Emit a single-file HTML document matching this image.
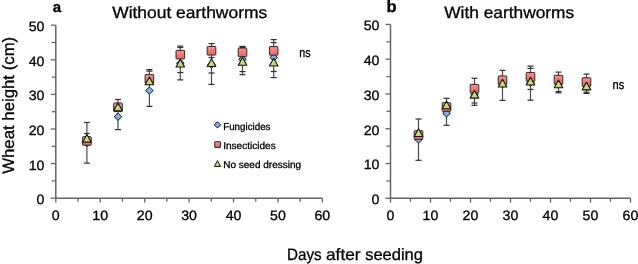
<!DOCTYPE html>
<html><head><meta charset="utf-8"><style>
html,body{margin:0;padding:0;background:#fff;}
svg{display:block;will-change:transform;}
text{font-family:"Liberation Sans", sans-serif;fill:#000;stroke:#000;stroke-width:0.3px;text-rendering:geometricPrecision;}
</style></head><body>
<svg width="638" height="264" viewBox="0 0 638 264">
<defs><linearGradient id="rg" x1="0" y1="0" x2="0" y2="1"><stop offset="0" stop-color="#f49494"/><stop offset="1" stop-color="#e96060"/></linearGradient>
<linearGradient id="gg" x1="0" y1="0" x2="0" y2="1"><stop offset="0" stop-color="#d2e68a"/><stop offset="1" stop-color="#bcd966"/></linearGradient>
<linearGradient id="bg" x1="0" y1="0" x2="0" y2="1"><stop offset="0" stop-color="#86bdf3"/><stop offset="1" stop-color="#68a9ea"/></linearGradient></defs>
<rect width="638" height="264" fill="#fff"/>
<line x1="55.8" y1="25.2" x2="55.8" y2="198.2" stroke="#646464" stroke-width="1.5"/>
<line x1="55.8" y1="198.2" x2="322.38" y2="198.2" stroke="#646464" stroke-width="1.5"/>
<line x1="50.8" y1="198.20" x2="55.8" y2="198.20" stroke="#646464" stroke-width="1.3"/>
<text transform="translate(44.5,204.10) scale(1.05,1)" text-anchor="end" font-size="13.5">0</text>
<line x1="51.8" y1="180.90" x2="55.8" y2="180.90" stroke="#646464" stroke-width="1.3"/>
<line x1="50.8" y1="163.60" x2="55.8" y2="163.60" stroke="#646464" stroke-width="1.3"/>
<text transform="translate(44.5,169.50) scale(1.05,1)" text-anchor="end" font-size="13.5">10</text>
<line x1="51.8" y1="146.30" x2="55.8" y2="146.30" stroke="#646464" stroke-width="1.3"/>
<line x1="50.8" y1="129.00" x2="55.8" y2="129.00" stroke="#646464" stroke-width="1.3"/>
<text transform="translate(44.5,134.90) scale(1.05,1)" text-anchor="end" font-size="13.5">20</text>
<line x1="51.8" y1="111.70" x2="55.8" y2="111.70" stroke="#646464" stroke-width="1.3"/>
<line x1="50.8" y1="94.40" x2="55.8" y2="94.40" stroke="#646464" stroke-width="1.3"/>
<text transform="translate(44.5,100.30) scale(1.05,1)" text-anchor="end" font-size="13.5">30</text>
<line x1="51.8" y1="77.10" x2="55.8" y2="77.10" stroke="#646464" stroke-width="1.3"/>
<line x1="50.8" y1="59.80" x2="55.8" y2="59.80" stroke="#646464" stroke-width="1.3"/>
<text transform="translate(44.5,65.70) scale(1.05,1)" text-anchor="end" font-size="13.5">40</text>
<line x1="51.8" y1="42.50" x2="55.8" y2="42.50" stroke="#646464" stroke-width="1.3"/>
<line x1="50.8" y1="25.20" x2="55.8" y2="25.20" stroke="#646464" stroke-width="1.3"/>
<text transform="translate(44.5,31.10) scale(1.05,1)" text-anchor="end" font-size="13.5">50</text>
<line x1="55.80" y1="198.2" x2="55.80" y2="202.5" stroke="#646464" stroke-width="1.3"/>
<text transform="translate(55.80,220.1) scale(1.05,1)" text-anchor="middle" font-size="13.5">0</text>
<line x1="78.01" y1="198.2" x2="78.01" y2="201.79999999999998" stroke="#646464" stroke-width="1.3"/>
<line x1="100.23" y1="198.2" x2="100.23" y2="202.5" stroke="#646464" stroke-width="1.3"/>
<text transform="translate(100.23,220.1) scale(1.05,1)" text-anchor="middle" font-size="13.5">10</text>
<line x1="122.44" y1="198.2" x2="122.44" y2="201.79999999999998" stroke="#646464" stroke-width="1.3"/>
<line x1="144.66" y1="198.2" x2="144.66" y2="202.5" stroke="#646464" stroke-width="1.3"/>
<text transform="translate(144.66,220.1) scale(1.05,1)" text-anchor="middle" font-size="13.5">20</text>
<line x1="166.88" y1="198.2" x2="166.88" y2="201.79999999999998" stroke="#646464" stroke-width="1.3"/>
<line x1="189.09" y1="198.2" x2="189.09" y2="202.5" stroke="#646464" stroke-width="1.3"/>
<text transform="translate(189.09,220.1) scale(1.05,1)" text-anchor="middle" font-size="13.5">30</text>
<line x1="211.31" y1="198.2" x2="211.31" y2="201.79999999999998" stroke="#646464" stroke-width="1.3"/>
<line x1="233.52" y1="198.2" x2="233.52" y2="202.5" stroke="#646464" stroke-width="1.3"/>
<text transform="translate(233.52,220.1) scale(1.05,1)" text-anchor="middle" font-size="13.5">40</text>
<line x1="255.73" y1="198.2" x2="255.73" y2="201.79999999999998" stroke="#646464" stroke-width="1.3"/>
<line x1="277.95" y1="198.2" x2="277.95" y2="202.5" stroke="#646464" stroke-width="1.3"/>
<text transform="translate(277.95,220.1) scale(1.05,1)" text-anchor="middle" font-size="13.5">50</text>
<line x1="300.16" y1="198.2" x2="300.16" y2="201.79999999999998" stroke="#646464" stroke-width="1.3"/>
<line x1="322.38" y1="198.2" x2="322.38" y2="202.5" stroke="#646464" stroke-width="1.3"/>
<text transform="translate(322.38,220.1) scale(1.05,1)" text-anchor="middle" font-size="13.5">60</text>
<line x1="390.5" y1="24.4" x2="390.5" y2="198.3" stroke="#646464" stroke-width="1.5"/>
<line x1="390.5" y1="198.3" x2="630.5" y2="198.3" stroke="#646464" stroke-width="1.5"/>
<line x1="385.5" y1="198.30" x2="390.5" y2="198.30" stroke="#646464" stroke-width="1.3"/>
<text transform="translate(379.5,204.20) scale(1.05,1)" text-anchor="end" font-size="13.5">0</text>
<line x1="386.5" y1="180.91" x2="390.5" y2="180.91" stroke="#646464" stroke-width="1.3"/>
<line x1="385.5" y1="163.52" x2="390.5" y2="163.52" stroke="#646464" stroke-width="1.3"/>
<text transform="translate(379.5,169.42) scale(1.05,1)" text-anchor="end" font-size="13.5">10</text>
<line x1="386.5" y1="146.13" x2="390.5" y2="146.13" stroke="#646464" stroke-width="1.3"/>
<line x1="385.5" y1="128.74" x2="390.5" y2="128.74" stroke="#646464" stroke-width="1.3"/>
<text transform="translate(379.5,134.64) scale(1.05,1)" text-anchor="end" font-size="13.5">20</text>
<line x1="386.5" y1="111.35" x2="390.5" y2="111.35" stroke="#646464" stroke-width="1.3"/>
<line x1="385.5" y1="93.96" x2="390.5" y2="93.96" stroke="#646464" stroke-width="1.3"/>
<text transform="translate(379.5,99.86) scale(1.05,1)" text-anchor="end" font-size="13.5">30</text>
<line x1="386.5" y1="76.57" x2="390.5" y2="76.57" stroke="#646464" stroke-width="1.3"/>
<line x1="385.5" y1="59.18" x2="390.5" y2="59.18" stroke="#646464" stroke-width="1.3"/>
<text transform="translate(379.5,65.08) scale(1.05,1)" text-anchor="end" font-size="13.5">40</text>
<line x1="386.5" y1="41.79" x2="390.5" y2="41.79" stroke="#646464" stroke-width="1.3"/>
<line x1="385.5" y1="24.40" x2="390.5" y2="24.40" stroke="#646464" stroke-width="1.3"/>
<text transform="translate(379.5,30.30) scale(1.05,1)" text-anchor="end" font-size="13.5">50</text>
<line x1="390.50" y1="198.3" x2="390.50" y2="202.60000000000002" stroke="#646464" stroke-width="1.3"/>
<text transform="translate(390.50,220.1) scale(1.05,1)" text-anchor="middle" font-size="13.5">0</text>
<line x1="410.50" y1="198.3" x2="410.50" y2="201.9" stroke="#646464" stroke-width="1.3"/>
<line x1="430.50" y1="198.3" x2="430.50" y2="202.60000000000002" stroke="#646464" stroke-width="1.3"/>
<text transform="translate(430.50,220.1) scale(1.05,1)" text-anchor="middle" font-size="13.5">10</text>
<line x1="450.50" y1="198.3" x2="450.50" y2="201.9" stroke="#646464" stroke-width="1.3"/>
<line x1="470.50" y1="198.3" x2="470.50" y2="202.60000000000002" stroke="#646464" stroke-width="1.3"/>
<text transform="translate(470.50,220.1) scale(1.05,1)" text-anchor="middle" font-size="13.5">20</text>
<line x1="490.50" y1="198.3" x2="490.50" y2="201.9" stroke="#646464" stroke-width="1.3"/>
<line x1="510.50" y1="198.3" x2="510.50" y2="202.60000000000002" stroke="#646464" stroke-width="1.3"/>
<text transform="translate(510.50,220.1) scale(1.05,1)" text-anchor="middle" font-size="13.5">30</text>
<line x1="530.50" y1="198.3" x2="530.50" y2="201.9" stroke="#646464" stroke-width="1.3"/>
<line x1="550.50" y1="198.3" x2="550.50" y2="202.60000000000002" stroke="#646464" stroke-width="1.3"/>
<text transform="translate(550.50,220.1) scale(1.05,1)" text-anchor="middle" font-size="13.5">40</text>
<line x1="570.50" y1="198.3" x2="570.50" y2="201.9" stroke="#646464" stroke-width="1.3"/>
<line x1="590.50" y1="198.3" x2="590.50" y2="202.60000000000002" stroke="#646464" stroke-width="1.3"/>
<text transform="translate(590.50,220.1) scale(1.05,1)" text-anchor="middle" font-size="13.5">50</text>
<line x1="610.50" y1="198.3" x2="610.50" y2="201.9" stroke="#646464" stroke-width="1.3"/>
<line x1="630.50" y1="198.3" x2="630.50" y2="202.60000000000002" stroke="#646464" stroke-width="1.3"/>
<text transform="translate(630.50,220.1) scale(1.05,1)" text-anchor="middle" font-size="13.5">60</text>
<line x1="86.9" y1="122.5" x2="86.9" y2="163.1" stroke="#4a4a4a" stroke-width="1.2"/>
<line x1="83.90" y1="122.5" x2="89.90" y2="122.5" stroke="#303030" stroke-width="1.2"/>
<line x1="83.90" y1="133.5" x2="89.90" y2="133.5" stroke="#303030" stroke-width="1.2"/>
<line x1="83.90" y1="163.1" x2="89.90" y2="163.1" stroke="#303030" stroke-width="1.2"/>
<line x1="118.0" y1="99.5" x2="118.0" y2="129.6" stroke="#4a4a4a" stroke-width="1.2"/>
<line x1="115.00" y1="99.5" x2="121.00" y2="99.5" stroke="#303030" stroke-width="1.2"/>
<line x1="115.00" y1="129.6" x2="121.00" y2="129.6" stroke="#303030" stroke-width="1.2"/>
<line x1="149.4" y1="69.6" x2="149.4" y2="106.4" stroke="#4a4a4a" stroke-width="1.2"/>
<line x1="146.40" y1="69.6" x2="152.40" y2="69.6" stroke="#303030" stroke-width="1.2"/>
<line x1="146.40" y1="71.1" x2="152.40" y2="71.1" stroke="#303030" stroke-width="1.2"/>
<line x1="146.40" y1="106.4" x2="152.40" y2="106.4" stroke="#303030" stroke-width="1.2"/>
<line x1="180.3" y1="46.1" x2="180.3" y2="79.9" stroke="#4a4a4a" stroke-width="1.2"/>
<line x1="177.30" y1="46.1" x2="183.30" y2="46.1" stroke="#303030" stroke-width="1.2"/>
<line x1="177.30" y1="47.5" x2="183.30" y2="47.5" stroke="#303030" stroke-width="1.2"/>
<line x1="177.30" y1="72.6" x2="183.30" y2="72.6" stroke="#303030" stroke-width="1.2"/>
<line x1="177.30" y1="79.9" x2="183.30" y2="79.9" stroke="#303030" stroke-width="1.2"/>
<line x1="211.5" y1="43.6" x2="211.5" y2="84.4" stroke="#4a4a4a" stroke-width="1.2"/>
<line x1="208.50" y1="43.6" x2="214.50" y2="43.6" stroke="#303030" stroke-width="1.2"/>
<line x1="208.50" y1="57.5" x2="214.50" y2="57.5" stroke="#303030" stroke-width="1.2"/>
<line x1="208.50" y1="73.0" x2="214.50" y2="73.0" stroke="#303030" stroke-width="1.2"/>
<line x1="208.50" y1="84.4" x2="214.50" y2="84.4" stroke="#303030" stroke-width="1.2"/>
<line x1="242.5" y1="46.4" x2="242.5" y2="74.7" stroke="#4a4a4a" stroke-width="1.2"/>
<line x1="239.50" y1="46.4" x2="245.50" y2="46.4" stroke="#303030" stroke-width="1.2"/>
<line x1="239.50" y1="47.5" x2="245.50" y2="47.5" stroke="#303030" stroke-width="1.2"/>
<line x1="239.50" y1="71.6" x2="245.50" y2="71.6" stroke="#303030" stroke-width="1.2"/>
<line x1="239.50" y1="74.7" x2="245.50" y2="74.7" stroke="#303030" stroke-width="1.2"/>
<line x1="273.7" y1="39.6" x2="273.7" y2="77.6" stroke="#4a4a4a" stroke-width="1.2"/>
<line x1="270.70" y1="39.6" x2="276.70" y2="39.6" stroke="#303030" stroke-width="1.2"/>
<line x1="270.70" y1="42.6" x2="276.70" y2="42.6" stroke="#303030" stroke-width="1.2"/>
<line x1="270.70" y1="71.5" x2="276.70" y2="71.5" stroke="#303030" stroke-width="1.2"/>
<line x1="270.70" y1="77.6" x2="276.70" y2="77.6" stroke="#303030" stroke-width="1.2"/>
<line x1="418.5" y1="119.0" x2="418.5" y2="160.3" stroke="#4a4a4a" stroke-width="1.2"/>
<line x1="415.50" y1="119.0" x2="421.50" y2="119.0" stroke="#303030" stroke-width="1.2"/>
<line x1="415.50" y1="160.3" x2="421.50" y2="160.3" stroke="#303030" stroke-width="1.2"/>
<line x1="446.5" y1="98.3" x2="446.5" y2="125.3" stroke="#4a4a4a" stroke-width="1.2"/>
<line x1="443.50" y1="98.3" x2="449.50" y2="98.3" stroke="#303030" stroke-width="1.2"/>
<line x1="443.50" y1="125.3" x2="449.50" y2="125.3" stroke="#303030" stroke-width="1.2"/>
<line x1="474.5" y1="78.3" x2="474.5" y2="105.3" stroke="#4a4a4a" stroke-width="1.2"/>
<line x1="471.50" y1="78.3" x2="477.50" y2="78.3" stroke="#303030" stroke-width="1.2"/>
<line x1="471.50" y1="103.0" x2="477.50" y2="103.0" stroke="#303030" stroke-width="1.2"/>
<line x1="471.50" y1="105.3" x2="477.50" y2="105.3" stroke="#303030" stroke-width="1.2"/>
<line x1="502.5" y1="70.4" x2="502.5" y2="100.4" stroke="#4a4a4a" stroke-width="1.2"/>
<line x1="499.50" y1="70.4" x2="505.50" y2="70.4" stroke="#303030" stroke-width="1.2"/>
<line x1="499.50" y1="100.4" x2="505.50" y2="100.4" stroke="#303030" stroke-width="1.2"/>
<line x1="530.5" y1="66.1" x2="530.5" y2="100.2" stroke="#4a4a4a" stroke-width="1.2"/>
<line x1="527.50" y1="66.1" x2="533.50" y2="66.1" stroke="#303030" stroke-width="1.2"/>
<line x1="527.50" y1="68.4" x2="533.50" y2="68.4" stroke="#303030" stroke-width="1.2"/>
<line x1="527.50" y1="89.4" x2="533.50" y2="89.4" stroke="#303030" stroke-width="1.2"/>
<line x1="527.50" y1="100.2" x2="533.50" y2="100.2" stroke="#303030" stroke-width="1.2"/>
<line x1="558.5" y1="72.1" x2="558.5" y2="92.8" stroke="#4a4a4a" stroke-width="1.2"/>
<line x1="555.50" y1="72.1" x2="561.50" y2="72.1" stroke="#303030" stroke-width="1.2"/>
<line x1="555.50" y1="91.6" x2="561.50" y2="91.6" stroke="#303030" stroke-width="1.2"/>
<line x1="555.50" y1="92.8" x2="561.50" y2="92.8" stroke="#303030" stroke-width="1.2"/>
<line x1="586.5" y1="74.1" x2="586.5" y2="93.4" stroke="#4a4a4a" stroke-width="1.2"/>
<line x1="583.50" y1="74.1" x2="589.50" y2="74.1" stroke="#303030" stroke-width="1.2"/>
<line x1="583.50" y1="92.2" x2="589.50" y2="92.2" stroke="#303030" stroke-width="1.2"/>
<line x1="583.50" y1="93.4" x2="589.50" y2="93.4" stroke="#303030" stroke-width="1.2"/>
<path d="M86.9 139.40L90.75 143.0L86.9 146.60L83.05 143.0Z" fill="url(#bg)" stroke="#151515" stroke-width="0.95"/>
<path d="M118.0 113.20L121.85 116.8L118.0 120.40L114.15 116.8Z" fill="url(#bg)" stroke="#151515" stroke-width="0.95"/>
<path d="M149.4 86.95L153.25 90.55L149.4 94.15L145.55 90.55Z" fill="url(#bg)" stroke="#151515" stroke-width="0.95"/>
<path d="M180.3 59.60L184.15 63.2L180.3 66.80L176.45 63.2Z" fill="url(#bg)" stroke="#151515" stroke-width="0.95"/>
<path d="M211.5 61.00L215.35 64.6L211.5 68.20L207.65 64.6Z" fill="url(#bg)" stroke="#151515" stroke-width="0.95"/>
<path d="M242.5 55.70L246.35 59.3L242.5 62.90L238.65 59.3Z" fill="url(#bg)" stroke="#151515" stroke-width="0.95"/>
<path d="M273.7 54.00L277.55 57.6L273.7 61.20L269.85 57.6Z" fill="url(#bg)" stroke="#151515" stroke-width="0.95"/>
<path d="M418.5 135.90L422.35 139.5L418.5 143.10L414.65 139.5Z" fill="url(#bg)" stroke="#151515" stroke-width="0.95"/>
<path d="M446.5 109.80L450.35 113.4L446.5 117.00L442.65 113.4Z" fill="url(#bg)" stroke="#151515" stroke-width="0.95"/>
<path d="M474.5 90.90L478.35 94.5L474.5 98.10L470.65 94.5Z" fill="url(#bg)" stroke="#151515" stroke-width="0.95"/>
<path d="M502.5 80.40L506.35 84.0L502.5 87.60L498.65 84.0Z" fill="url(#bg)" stroke="#151515" stroke-width="0.95"/>
<path d="M530.5 78.90L534.35 82.5L530.5 86.10L526.65 82.5Z" fill="url(#bg)" stroke="#151515" stroke-width="0.95"/>
<path d="M558.5 80.40L562.35 84.0L558.5 87.60L554.65 84.0Z" fill="url(#bg)" stroke="#151515" stroke-width="0.95"/>
<path d="M586.5 82.40L590.35 86.0L586.5 89.60L582.65 86.0Z" fill="url(#bg)" stroke="#151515" stroke-width="0.95"/>
<rect x="82.60" y="136.70" width="8.6" height="8.6" rx="0.6" fill="url(#rg)" stroke="#2a2a2a" stroke-width="1.0"/>
<rect x="113.70" y="102.95" width="8.6" height="8.6" rx="0.6" fill="url(#rg)" stroke="#2a2a2a" stroke-width="1.0"/>
<rect x="145.10" y="74.60" width="8.6" height="8.6" rx="0.6" fill="url(#rg)" stroke="#2a2a2a" stroke-width="1.0"/>
<rect x="176.00" y="50.35" width="8.6" height="8.6" rx="0.6" fill="url(#rg)" stroke="#2a2a2a" stroke-width="1.0"/>
<rect x="207.20" y="46.45" width="8.6" height="8.6" rx="0.6" fill="url(#rg)" stroke="#2a2a2a" stroke-width="1.0"/>
<rect x="238.20" y="48.10" width="8.6" height="8.6" rx="0.6" fill="url(#rg)" stroke="#2a2a2a" stroke-width="1.0"/>
<rect x="269.40" y="46.60" width="8.6" height="8.6" rx="0.6" fill="url(#rg)" stroke="#2a2a2a" stroke-width="1.0"/>
<rect x="414.20" y="130.75" width="8.6" height="8.6" rx="0.6" fill="url(#rg)" stroke="#2a2a2a" stroke-width="1.0"/>
<rect x="442.20" y="102.70" width="8.6" height="8.6" rx="0.6" fill="url(#rg)" stroke="#2a2a2a" stroke-width="1.0"/>
<rect x="470.20" y="84.35" width="8.6" height="8.6" rx="0.6" fill="url(#rg)" stroke="#2a2a2a" stroke-width="1.0"/>
<rect x="498.20" y="75.95" width="8.6" height="8.6" rx="0.6" fill="url(#rg)" stroke="#2a2a2a" stroke-width="1.0"/>
<rect x="526.20" y="72.45" width="8.6" height="8.6" rx="0.6" fill="url(#rg)" stroke="#2a2a2a" stroke-width="1.0"/>
<rect x="554.20" y="75.25" width="8.6" height="8.6" rx="0.6" fill="url(#rg)" stroke="#2a2a2a" stroke-width="1.0"/>
<rect x="582.20" y="77.75" width="8.6" height="8.6" rx="0.6" fill="url(#rg)" stroke="#2a2a2a" stroke-width="1.0"/>
<path d="M86.9 134.45L91.20 142.15L82.60 142.15Z" fill="url(#gg)" stroke="#151515" stroke-width="1.1" stroke-linejoin="round"/>
<path d="M118.0 103.05L122.30 110.75L113.70 110.75Z" fill="url(#gg)" stroke="#151515" stroke-width="1.1" stroke-linejoin="round"/>
<path d="M149.4 77.05L153.70 84.75L145.10 84.75Z" fill="url(#gg)" stroke="#151515" stroke-width="1.1" stroke-linejoin="round"/>
<path d="M180.3 59.25L184.60 66.95L176.00 66.95Z" fill="url(#gg)" stroke="#151515" stroke-width="1.1" stroke-linejoin="round"/>
<path d="M211.5 58.75L215.80 66.45L207.20 66.45Z" fill="url(#gg)" stroke="#151515" stroke-width="1.1" stroke-linejoin="round"/>
<path d="M242.5 57.55L246.80 65.25L238.20 65.25Z" fill="url(#gg)" stroke="#151515" stroke-width="1.1" stroke-linejoin="round"/>
<path d="M273.7 58.35L278.00 66.05L269.40 66.05Z" fill="url(#gg)" stroke="#151515" stroke-width="1.1" stroke-linejoin="round"/>
<path d="M418.5 128.75L422.80 136.45L414.20 136.45Z" fill="url(#gg)" stroke="#151515" stroke-width="1.1" stroke-linejoin="round"/>
<path d="M446.5 101.00L450.80 108.70L442.20 108.70Z" fill="url(#gg)" stroke="#151515" stroke-width="1.1" stroke-linejoin="round"/>
<path d="M474.5 90.40L478.80 98.10L470.20 98.10Z" fill="url(#gg)" stroke="#151515" stroke-width="1.1" stroke-linejoin="round"/>
<path d="M502.5 79.25L506.80 86.95L498.20 86.95Z" fill="url(#gg)" stroke="#151515" stroke-width="1.1" stroke-linejoin="round"/>
<path d="M530.5 77.35L534.80 85.05L526.20 85.05Z" fill="url(#gg)" stroke="#151515" stroke-width="1.1" stroke-linejoin="round"/>
<path d="M558.5 80.05L562.80 87.75L554.20 87.75Z" fill="url(#gg)" stroke="#151515" stroke-width="1.1" stroke-linejoin="round"/>
<path d="M586.5 82.15L590.80 89.85L582.20 89.85Z" fill="url(#gg)" stroke="#151515" stroke-width="1.1" stroke-linejoin="round"/>
<path d="M217.5 121.70L220.70 124.9L217.5 128.10L214.30 124.9Z" fill="url(#bg)" stroke="#151515" stroke-width="1"/>
<rect x="214.75" y="141.75" width="5.7" height="5.7" rx="0.2" fill="url(#rg)" stroke="#2a2a2a" stroke-width="1"/>
<path d="M217.5 160.55L220.60 166.45L214.40 166.45Z" fill="url(#gg)" stroke="#151515" stroke-width="1" stroke-linejoin="round"/>
<text x="223.2" y="129.6" font-size="10" textLength="47.3" lengthAdjust="spacingAndGlyphs">Fungicides</text>
<text x="223.2" y="149.0" font-size="10" textLength="52.5" lengthAdjust="spacingAndGlyphs">Insecticides</text>
<text x="223.2" y="167.9" font-size="10" textLength="78" lengthAdjust="spacingAndGlyphs">No seed dressing</text>
<text x="299.3" y="56.8" font-size="13" textLength="11.3" lengthAdjust="spacingAndGlyphs">ns</text>
<text x="612.5" y="89.0" font-size="13" textLength="11.7" lengthAdjust="spacingAndGlyphs">ns</text>
<text x="52.7" y="11.9" font-size="15" font-weight="bold">a</text>
<text x="386.6" y="12.1" font-size="16.5" font-weight="bold">b</text>
<text x="112.2" y="18.0" font-size="16.5" textLength="155" lengthAdjust="spacingAndGlyphs">Without earthworms</text>
<text x="444.2" y="18.1" font-size="16.5" textLength="130" lengthAdjust="spacingAndGlyphs">With earthworms</text>
<text x="287.0" y="259.5" font-size="16.5" textLength="34.6" lengthAdjust="spacingAndGlyphs">Days</text>
<text x="326.0" y="259.5" font-size="16.5" textLength="34.6" lengthAdjust="spacingAndGlyphs">after</text>
<text x="365.2" y="259.5" font-size="16.5" textLength="57.8" lengthAdjust="spacingAndGlyphs">seeding</text>
<text transform="translate(13.6,173.8) rotate(-90)" x="0" y="0" font-size="16.5" textLength="137" lengthAdjust="spacingAndGlyphs">Wheat height (cm)</text>
</svg>
</body></html>
